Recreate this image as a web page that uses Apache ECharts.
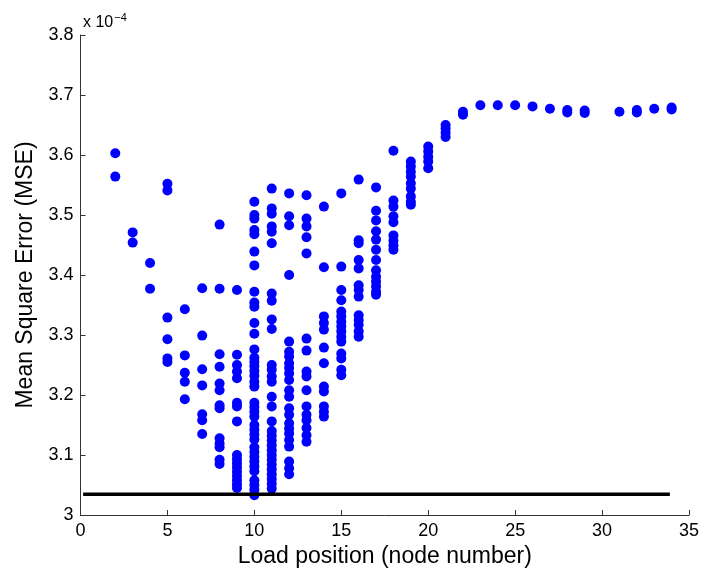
<!DOCTYPE html>
<html>
<head>
<meta charset="utf-8">
<script src="https://cdn.jsdelivr.net/npm/echarts@6/dist/echarts.min.js"></script>
<style>
  html, body { margin: 0; padding: 0; background: #fff; }
  #chart { width: 701px; height: 573px; }
</style>
</head>
<body>
<div id="chart"></div>
<script>
// MSE values are in units of 1e-4 (axis shows "x 10^-4")
const loadPositions = [2, 3, 4, 5, 6, 7, 8, 9, 10, 11, 12, 13, 14, 15, 16, 17, 18, 19, 20, 21, 22, 23, 24, 25, 26, 27, 28, 29, 31, 32, 33, 34];

const mseValues = [
  [3.603, 3.564],
  [3.471, 3.454],
  [3.420, 3.377],
  [3.552, 3.541, 3.329, 3.293, 3.261, 3.255],
  [3.343, 3.266, 3.237, 3.222, 3.193],
  [3.378, 3.299, 3.243, 3.216, 3.168, 3.158, 3.135],
  [3.484, 3.377, 3.268, 3.247, 3.219, 3.208, 3.183, 3.178, 3.128, 3.119, 3.113, 3.092, 3.085],
  [3.375, 3.267, 3.250, 3.239, 3.228, 3.187, 3.181, 3.156, 3.100, 3.093, 3.086, 3.079, 3.072, 3.065, 3.058, 3.051, 3.045],
  [3.522, 3.500, 3.494, 3.475, 3.468, 3.439, 3.416, 3.372, 3.354, 3.347, 3.320, 3.302, 3.276, 3.262, 3.255, 3.248, 3.240, 3.232, 3.222, 3.214,
   3.187, 3.180, 3.172, 3.164, 3.150, 3.142, 3.134, 3.126, 3.113, 3.105, 3.097, 3.089, 3.081, 3.073, 3.058, 3.050, 3.042, 3.033],
  [3.544, 3.511, 3.502, 3.481, 3.472, 3.453, 3.369, 3.357, 3.326, 3.310, 3.250, 3.242, 3.231, 3.222, 3.197, 3.181, 3.156,
   3.140, 3.132, 3.124, 3.116, 3.108, 3.100, 3.092, 3.084, 3.076, 3.068, 3.060, 3.052, 3.044],
  [3.536, 3.498, 3.483, 3.400, 3.289, 3.272, 3.264, 3.253, 3.245, 3.236, 3.225, 3.208, 3.197, 3.178, 3.167, 3.153, 3.144, 3.136, 3.125, 3.114, 3.089, 3.078, 3.068],
  [3.533, 3.494, 3.481, 3.463, 3.436, 3.294, 3.274, 3.239, 3.231, 3.208, 3.181, 3.167, 3.158, 3.145, 3.133, 3.122],
  [3.514, 3.413, 3.331, 3.320, 3.309, 3.279, 3.253, 3.214, 3.206, 3.181, 3.172, 3.164],
  [3.536, 3.414, 3.375, 3.358, 3.339, 3.331, 3.322, 3.314, 3.306, 3.297, 3.289, 3.269, 3.261, 3.242, 3.233],
  [3.559, 3.458, 3.453, 3.425, 3.411, 3.383, 3.375, 3.364, 3.333, 3.325, 3.317, 3.306, 3.297],
  [3.546, 3.507, 3.491, 3.473, 3.459, 3.442, 3.425, 3.408, 3.397, 3.389, 3.381, 3.372, 3.367],
  [3.607, 3.524, 3.514, 3.498, 3.488, 3.466, 3.457, 3.449, 3.442],
  [3.589, 3.581, 3.572, 3.564, 3.553, 3.544, 3.531, 3.522, 3.517],
  [3.614, 3.606, 3.597, 3.589, 3.578],
  [3.650, 3.644, 3.637, 3.630],
  [3.672, 3.667],
  [3.683],
  [3.683],
  [3.683],
  [3.681],
  [3.677],
  [3.675, 3.671],
  [3.674, 3.670],
  [3.672],
  [3.675, 3.671],
  [3.677],
  [3.679, 3.676]
];

const thresholdMSE = 3.0345;
const thresholdRange = [0.15, 33.9];

const xTicks = [0, 5, 10, 15, 20, 25, 30, 35];
const yTicks = [3.0, 3.1, 3.2, 3.3, 3.4, 3.5, 3.6, 3.7, 3.8];

const scatterData = [];
loadPositions.forEach((pos, i) => {
  mseValues[i].forEach(v => scatterData.push([pos, v]));
});

const chart = echarts.init(document.getElementById('chart'), null, { renderer: 'canvas' });
const font = 'Liberation Sans, Arial, Helvetica, sans-serif';
const axisColor = '#333';

chart.setOption({
  animation: false,
  backgroundColor: '#fff',
  textStyle: { fontFamily: font },
  title: {
    text: 'x 10{sup|−4}',
    left: 78,
    top: 7,
    textStyle: {
      fontFamily: font,
      fontSize: 16,
      fontWeight: 'normal',
      color: '#000',
      rich: {
        sup: { fontSize: 11, fontFamily: font, color: '#000', verticalAlign: 'top', padding: [0, 0, 10, 1] }
      }
    }
  },
  grid: {
    left: 80.5,
    right: 12,
    top: 35,
    bottom: 58,
    containLabel: false,
    outerBoundsMode: 'none'
  },
  xAxis: {
    type: 'value',
    min: xTicks[0],
    max: xTicks[xTicks.length - 1],
    interval: 5,
    name: 'Load position (node number)',
    nameLocation: 'middle',
    nameGap: 25,
    nameTextStyle: { fontSize: 23, color: '#000', fontFamily: font },
    axisLine: { show: true, onZero: false, lineStyle: { color: axisColor, width: 1 } },
    axisTick: { show: true, inside: true, length: 5, lineStyle: { color: axisColor } },
    axisLabel: { fontSize: 18, color: '#000', margin: 7, fontFamily: font },
    splitLine: { show: false }
  },
  yAxis: {
    type: 'value',
    min: yTicks[0],
    max: yTicks[yTicks.length - 1],
    interval: 0.1,
    name: 'Mean Square Error (MSE)',
    nameLocation: 'middle',
    nameGap: 42,
    nameRotate: 90,
    nameTextStyle: { fontSize: 23, color: '#000', fontFamily: font },
    axisLine: { show: true, onZero: false, lineStyle: { color: axisColor, width: 1 } },
    axisTick: { show: true, inside: true, length: 5, lineStyle: { color: axisColor } },
    axisLabel: {
      fontSize: 18, color: '#000', margin: 7, fontFamily: font,
      formatter: v => Math.abs(v - 3) < 1e-9 ? '3' : v.toFixed(1)
    },
    splitLine: { show: false }
  },
  series: [
    {
      type: 'line',
      data: [[thresholdRange[0], thresholdMSE], [thresholdRange[1], thresholdMSE]],
      symbol: 'none',
      lineStyle: { color: '#000', width: 3.5 },
      z: 3,
      silent: true
    },
    {
      type: 'scatter',
      data: scatterData,
      symbol: 'circle',
      symbolSize: 10,
      itemStyle: { color: '#0000ff', opacity: 1 },
      z: 2
    }
  ]
});
</script>
</body>
</html>
